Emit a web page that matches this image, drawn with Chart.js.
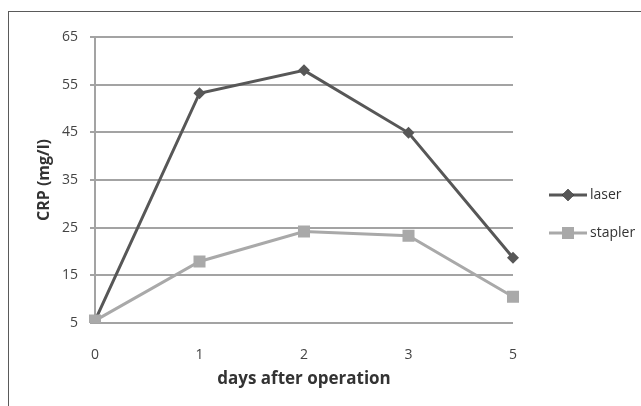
<!DOCTYPE html>
<html>
<head>
<meta charset="utf-8">
<script src="https://cdn.jsdelivr.net/npm/chart.js@4"></script>
<style>
  html, body { margin: 0; padding: 0; background: #fff; }
  #wrap { position: relative; width: 641px; height: 406px; overflow: hidden; }
  #frame { position: absolute; left: 8px; top: 11px; right: -5px; bottom: -5px;
           border-top: 1.5px solid #5a5a5a; border-left: 1.5px solid #5a5a5a; }
  canvas { position: absolute; left: 0; top: 0; }
</style>
</head>
<body>
<div id="wrap">
  <div id="frame"></div>
  <canvas id="c" width="641" height="406"></canvas>
</div>
<script>
const days = ['0', '1', '2', '3', '5'];
const laser = [5.5, 53.2, 58.0, 44.9, 18.7];
const stapler = [5.5, 17.9, 24.2, 23.3, 10.5];
const yTicks = [5, 15, 25, 35, 45, 55, 65];
const seriesNames = ['laser', 'stapler'];

const FONT = "'Open Sans', 'DejaVu Sans', sans-serif";
const LASER_COLOR = '#575757';
const STAPLER_COLOR = '#a9a9a9';
const GRID_COLOR = '#a3a3a3';

const legendPlugin = {
  id: 'lineLegend',
  afterDraw(chart) {
    const ctx = chart.ctx;
    const x0 = 549, x1 = 587, tx = 590;
    const ys = [195, 233];
    chart.data.datasets.forEach((ds, i) => {
      const y = ys[i];
      ctx.save();
      ctx.strokeStyle = ds.borderColor;
      ctx.lineWidth = ds.borderWidth;
      ctx.beginPath();
      ctx.moveTo(x0, y);
      ctx.lineTo(x1, y);
      ctx.stroke();
      Chart.helpers.drawPoint(ctx, {
        pointStyle: ds.pointStyle,
        radius: ds.pointRadius,
        borderWidth: 0
      }, (x0 + x1) / 2, y);
      ctx.fillStyle = ds.pointBackgroundColor;
      ctx.fill();
      ctx.fillStyle = '#333';
      ctx.font = "14px " + FONT;
      ctx.textBaseline = 'middle';
      ctx.textAlign = 'left';
      ctx.fillText(ds.label, tx, y);
      ctx.restore();
    });
  }
};

new Chart(document.getElementById('c'), {
  type: 'line',
  data: {
    labels: days,
    datasets: [
      {
        label: seriesNames[0],
        data: laser,
        borderColor: LASER_COLOR,
        backgroundColor: LASER_COLOR,
        pointBackgroundColor: LASER_COLOR,
        pointBorderColor: LASER_COLOR,
        borderWidth: 3,
        pointStyle: 'rectRot',
        pointRadius: 6,
        pointBorderWidth: 0,
        tension: 0,
        order: 1
      },
      {
        label: seriesNames[1],
        data: stapler,
        borderColor: STAPLER_COLOR,
        backgroundColor: STAPLER_COLOR,
        pointBackgroundColor: STAPLER_COLOR,
        pointBorderColor: STAPLER_COLOR,
        borderWidth: 3,
        pointStyle: 'rect',
        pointRadius: 8.5,
        pointBorderWidth: 0,
        tension: 0,
        order: 0
      }
    ]
  },
  options: {
    responsive: false,
    animation: false,
    events: [],
    layout: { padding: { left: 0, top: 37, right: 128, bottom: 0 } },
    plugins: {
      legend: { display: false },
      tooltip: { enabled: false },
      title: { display: false }
    },
    scales: {
      x: {
        type: 'category',
        offset: false,
        grid: { display: false, drawTicks: false },
        border: { display: false },
        ticks: {
          color: '#444',
          font: { family: FONT, size: 14 },
          padding: 24,
          maxRotation: 0
        },
        title: {
          display: true,
          text: 'days after operation',
          color: '#333',
          font: { family: FONT, size: 17, weight: 'bold' },
          padding: { top: 0, bottom: 17 }
        },
        afterFit(scale) { scale.height = 83; }
      },
      y: {
        min: 5,
        max: 65,
        afterBuildTicks(scale) { scale.ticks = yTicks.map(v => ({ value: v })); },
        grid: { color: GRID_COLOR, lineWidth: 2, drawTicks: true, tickLength: 5 },
        border: { display: true, color: GRID_COLOR, width: 2 },
        ticks: {
          color: '#444',
          font: { family: FONT, size: 14 },
          padding: 12
        },
        title: {
          display: true,
          text: 'CRP (mg/l)',
          color: '#333',
          font: { family: FONT, size: 16, weight: 'bold' },
          padding: { top: 35, bottom: 0 }
        },
        afterFit(scale) { scale.width = 95; }
      }
    }
  },
  plugins: [legendPlugin]
});
</script>
</body>
</html>
